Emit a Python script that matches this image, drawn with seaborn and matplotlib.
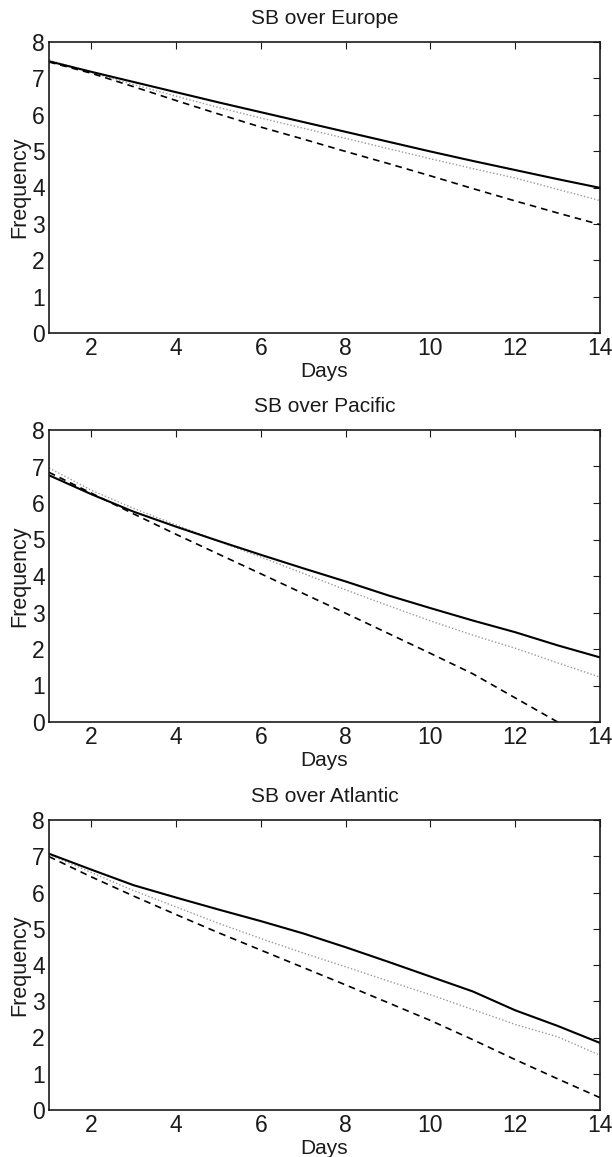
import numpy as np
import pandas as pd
import matplotlib
matplotlib.use("Agg")
import matplotlib.pyplot as plt
import seaborn as sns

days = list(range(1, 15))

titles = ["SB over Europe", "SB over Pacific", "SB over Atlantic"]

europe_solid = [7.47, 7.18, 6.90, 6.62, 6.34, 6.07, 5.80, 5.53, 5.26, 4.99, 4.73, 4.48, 4.23, 3.99]
europe_dotted = [7.50, 7.16, 6.83, 6.51, 6.20, 5.91, 5.63, 5.35, 5.07, 4.79, 4.52, 4.26, 3.95, 3.64]
europe_dashed = [7.45, 7.14, 6.77, 6.39, 6.02, 5.66, 5.33, 4.99, 4.66, 4.32, 3.97, 3.63, 3.30, 2.98]

pacific_solid = [6.76, 6.24, 5.76, 5.35, 4.96, 4.58, 4.21, 3.85, 3.47, 3.12, 2.78, 2.46, 2.10, 1.77]
pacific_dotted = [6.96, 6.35, 5.85, 5.40, 4.95, 4.52, 4.07, 3.62, 3.19, 2.77, 2.38, 2.02, 1.62, 1.23]
pacific_dashed = [6.84, 6.27, 5.70, 5.14, 4.60, 4.06, 3.52, 2.98, 2.43, 1.88, 1.32, 0.66, 0.00, -0.68]

atlantic_solid = [7.07, 6.63, 6.20, 5.86, 5.53, 5.21, 4.87, 4.49, 4.09, 3.68, 3.27, 2.75, 2.32, 1.85]
atlantic_dotted = [7.05, 6.55, 6.05, 5.60, 5.15, 4.73, 4.33, 3.95, 3.56, 3.18, 2.77, 2.36, 2.02, 1.51]
atlantic_dashed = [6.99, 6.43, 5.90, 5.39, 4.89, 4.41, 3.93, 3.45, 2.96, 2.47, 1.94, 1.39, 0.86, 0.34]

panels = [
    (europe_solid, europe_dotted, europe_dashed),
    (pacific_solid, pacific_dotted, pacific_dashed),
    (atlantic_solid, atlantic_dotted, atlantic_dashed),
]

x_ticks = [2, 4, 6, 8, 10, 12, 14]
y_ticks = [0, 1, 2, 3, 4, 5, 6, 7, 8]

sns.set_theme(style="white")
plt.rcParams['font.family'] = ['Liberation Sans', 'DejaVu Sans']

fig = plt.figure(figsize=(6.12, 11.57), dpi=100)

left, width = 49 / 612, (600 - 49) / 612
tops = [42, 430, 820]
bottoms = [333, 722, 1110]

for i, (solid, dotted, dashed) in enumerate(panels):
    t, b = tops[i], bottoms[i]
    ax = fig.add_axes([left, 1 - b / 1157, width, (b - t) / 1157])
    sns.lineplot(x=days, y=dotted, ax=ax, color="#9a9a9a", linestyle=(0, (1, 1.5)), linewidth=1.0)
    sns.lineplot(x=days, y=dashed, ax=ax, color="black", linestyle=(0, (4, 3)), linewidth=1.2)
    sns.lineplot(x=days, y=solid, ax=ax, color="black", linestyle="-", linewidth=1.5)
    ax.set_xlim(1, 14)
    ax.set_ylim(0, 8)
    ax.set_xticks(x_ticks)
    ax.set_yticks(y_ticks)
    ax.tick_params(direction="in", length=5, width=0.8, top=True, right=True,
                   labelsize=16.5, colors="#1a1a1a", pad=3)
    ax.tick_params(axis="x", pad=3)
    for sp in ax.spines.values():
        sp.set_visible(True)
        sp.set_color("#1a1a1a")
        sp.set_linewidth(1.2)
    ax.set_title(titles[i], fontsize=15, pad=13, color="#1a1a1a")
    ax.set_xlabel("Days", fontsize=15, labelpad=1, color="#1a1a1a")
    ax.set_ylabel("Frequency", fontsize=15.5, labelpad=1, color="#1a1a1a")
    ax.grid(False)

fig.savefig("out.png", dpi=100)
